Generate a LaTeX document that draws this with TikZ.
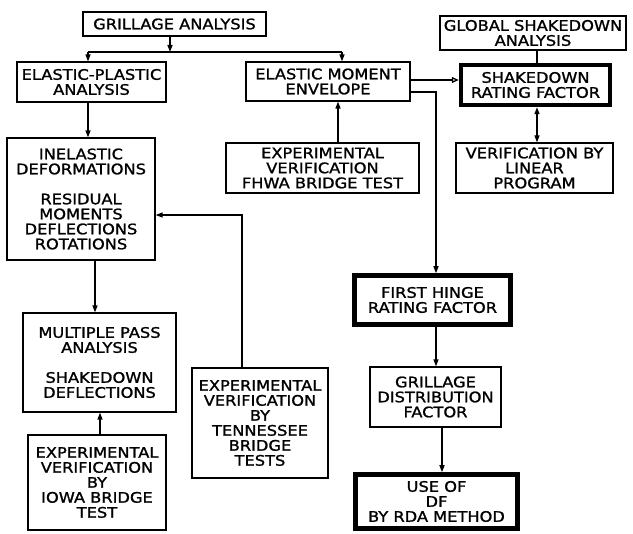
\documentclass[tikz,border=0pt]{standalone}
\usepackage{fontspec}
\setmainfont{DejaVu Sans}[FakeStretch=1.12,FakeBold=1.3]
\usetikzlibrary{arrows.meta}

\begin{document}
\begin{tikzpicture}[x=1pt,y=-1pt,
    box/.style={draw,line width=1.2pt,align=center,inner sep=1pt,
        font=\fontsize{14.5}{15}\selectfont},
    thickbox/.style={box,line width=4.5pt},
    link/.style={line width=1.3pt},
    arr/.style={link,-{Triangle[length=7pt,width=5pt]}}]
    \useasboundingbox (0,0) rectangle (633,534);

    % boxes
    \node[box,minimum width=183,minimum height=24] (grill) at (174.5,24) {GRILLAGE ANALYSIS};
    \node[box,minimum width=149,minimum height=40] (ep) at (91.5,82) {ELASTIC-PLASTIC\\ANALYSIS};
    \node[box,minimum width=164,minimum height=39] (eme) at (328,81.5) {ELASTIC MOMENT\\ENVELOPE};
    \node[box,minimum width=186,minimum height=34] (gsa) at (533,33) {GLOBAL SHAKEDOWN\\ANALYSIS};
    \node[thickbox,minimum width=149,minimum height=40] (srf) at (535.5,85) {SHAKEDOWN\\RATING FACTOR};
    \node[box,minimum width=157,minimum height=50] (vlp) at (534.5,168) {VERIFICATION BY\\LINEAR\\PROGRAM};
    \node[box,minimum width=193,minimum height=50] (fhwa) at (322.5,168) {EXPERIMENTAL\\VERIFICATION\\FHWA BRIDGE TEST};
    \node[box,minimum width=148,minimum height=122] (inel) at (81,199)
        {INELASTIC\\DEFORMATIONS\\[15pt]RESIDUAL\\MOMENTS\\DEFLECTIONS\\ROTATIONS};
    \node[box,minimum width=153,minimum height=99] (mpa) at (99.5,362.5)
        {MULTIPLE PASS\\ANALYSIS\\[15pt]SHAKEDOWN\\DEFLECTIONS};
    \node[box,minimum width=138,minimum height=95] (iowa) at (97,482.5)
        {EXPERIMENTAL\\VERIFICATION\\BY\\IOWA BRIDGE\\TEST};
    \node[box,minimum width=136,minimum height=110] (tenn) at (260,423)
        {EXPERIMENTAL\\VERIFICATION\\BY\\TENNESSEE\\BRIDGE\\TESTS};
    \node[thickbox,minimum width=156,minimum height=49] (fhrf) at (432.5,300) {FIRST HINGE\\RATING FACTOR};
    \node[box,minimum width=131,minimum height=60] (gdf) at (435.5,397) {GRILLAGE\\DISTRIBUTION\\FACTOR};
    \node[thickbox,minimum width=162,minimum height=54] (usedf) at (436.5,501.5) {USE OF\\DF\\BY RDA METHOD};

    % connectors
    \coordinate (top) at (170,52);
    \coordinate (left) at (88,52);
    \coordinate (right) at (342,52);
    \coordinate (bend) at (436,92);
    \coordinate (tbend) at (242,215);

    \draw[arr] (grill.south -| top) -- (top);
    \draw[link] (left) -- (right);
    \draw[arr] (left) -- (left |- ep.north);
    \draw[arr] (right) -- (right |- eme.north);
    \draw[arr] (ep.south -| left) -- (left |- inel.north);
    \draw[link,-{Triangle[open,length=7pt,width=6pt]}] (eme.east |- 0,80) -- (srf.west |- 0,80);
    \draw[arr] (eme.east |- bend) -- (bend) -- (bend |- fhrf.north);
    \draw[link] (gsa.south -| 537,0) -- (srf.north -| 537,0);
    \draw[link,{Triangle[length=7pt,width=5pt]}-{Triangle[length=7pt,width=5pt]}]
        (srf.south -| 537,0) -- (vlp.north -| 537,0);
    \draw[arr] (fhwa.north -| 338,0) -- (eme.south -| 338,0);
    \draw[arr] (tenn.north -| tbend) -- (tbend) -- (tbend -| inel.east);
    \draw[arr] (inel.south -| 95,0) -- (mpa.north -| 95,0);
    \draw[arr] (iowa.north -| 100,0) -- (mpa.south -| 100,0);
    \draw[arr] (fhrf.south -| bend) -- (gdf.north -| bend);
    \draw[arr] (gdf.south -| 442,0) -- (usedf.north -| 442,0);
\end{tikzpicture}
\end{document}
